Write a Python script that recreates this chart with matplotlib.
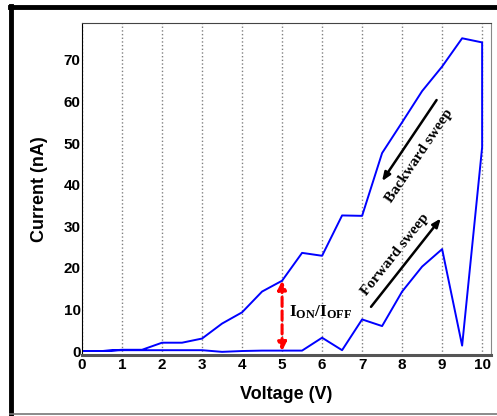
import numpy as np
import matplotlib
matplotlib.use("Agg")
import matplotlib.pyplot as plt
from matplotlib.lines import Line2D

# forward sweep (0 -> 10 V)
fwd_v = [0, 0.5, 1, 1.5, 2, 2.5, 3, 3.5, 4, 4.5, 5, 5.5, 6, 6.5, 7, 7.5, 8, 8.5, 9, 9.5, 10]
fwd_i = [0, 0, 0.2, 0.2, 0.2, 0.2, 0.2, -0.2, 0, 0.1, 0.1, 0.1, 3.2, 0.2, 7.6, 6.0, 14.3, 20.3, 24.5, 1.3, 49]

# backward sweep (10 -> 0 V)
bwd_v = [10, 9.5, 9, 8.5, 8, 7.5, 7, 6.5, 6, 5.5, 5, 4.5, 4, 3.5, 3, 2.5, 2, 1.5, 1, 0.5, 0]
bwd_i = [74.2, 75.2, 68.4, 62.5, 55, 47.6, 32.5, 32.6, 22.9, 23.6, 16.9, 14.3, 9.3, 6.6, 3.0, 2.0, 2.0, 0.3, 0.3, 0, 0]

xticks = list(range(0, 11))
yticks = [0, 10, 20, 30, 40, 50, 60, 70]

plt.rcParams['font.family'] = ['Liberation Sans', 'DejaVu Sans']
plt.rcParams['mathtext.fontset'] = 'custom'
plt.rcParams['mathtext.rm'] = 'Liberation Serif:bold'
plt.rcParams['mathtext.bf'] = 'Liberation Serif:bold'

fig = plt.figure(figsize=(4.97, 4.16), dpi=100)
ax = fig.add_axes([0.165, 0.1466, 0.822, 0.7974])

v = np.array(fwd_v + bwd_v)
cur = np.array(fwd_i + bwd_i)
ax.plot(v, cur, color='blue', lw=1.4)

ax.set_xlim(0, 10.21)
ax.set_ylim(-0.96, 78.8)
ax.set_xticks(xticks)
ax.set_yticks(yticks)
ax.tick_params(length=0, labelsize=11)
ax.tick_params(axis='x', pad=2)
ax.tick_params(axis='y', pad=1)
for lab in ax.get_xticklabels() + ax.get_yticklabels():
    lab.set_fontweight('bold')

ax.xaxis.grid(True, linestyle=':', color='gray', lw=1)
ax.set_axisbelow(True)

ax.spines['bottom'].set_color('#555555')
ax.spines['bottom'].set_linewidth(2.2)
ax.spines['top'].set_color('#444444')
ax.spines['left'].set_color('black')
ax.spines['right'].set_color('#888888')

ax.set_xlabel('Voltage (V)', fontsize=13, fontweight='bold', labelpad=10)
ax.set_ylabel('Current (nA)', fontsize=13, fontweight='bold', labelpad=11)

# sweep direction arrows
ax.annotate('', xy=(7.46, 40.3), xytext=(8.9, 60.9),
            arrowprops=dict(arrowstyle='-|>,head_width=0.2,head_length=0.5', color='black', lw=1.8))
ax.text(8.44, 47, 'Backward sweep', rotation=56, ha='center', va='center',
        family='Liberation Serif', fontweight='bold', fontsize=11)
ax.annotate('', xy=(9.01, 32.4), xytext=(7.18, 10.1),
            arrowprops=dict(arrowstyle='-|>,head_width=0.2,head_length=0.5', color='black', lw=1.8))
ax.text(7.82, 23.1, 'Forward sweep', rotation=51.5, ha='center', va='center',
        family='Liberation Serif', fontweight='bold', fontsize=11)

# on/off ratio marker
ax.annotate('', xy=(5, 16.9), xytext=(5, 0),
            arrowprops=dict(arrowstyle='<|-|>,head_width=0.25,head_length=0.5', color='red',
                            lw=2.2, linestyle=(0, (3, 1.5)), shrinkA=0, shrinkB=0))
ax.text(5.95, 9.2, r'$\mathrm{I_{ON}/I_{OFF}}$', ha='center', va='center', fontsize=12.5)

# outer frame
fig.add_artist(Line2D([0.0205, 1.0], [0.984, 0.984], color='black', lw=3.5, transform=fig.transFigure))
fig.add_artist(Line2D([0.0212, 0.0212], [0.0036, 0.986], color='black', lw=3.5, transform=fig.transFigure))
fig.add_artist(Line2D([0.02, 1.0], [0.004, 0.004], color='#777777', lw=1.2, transform=fig.transFigure))

fig.savefig('out.png', dpi=100)
